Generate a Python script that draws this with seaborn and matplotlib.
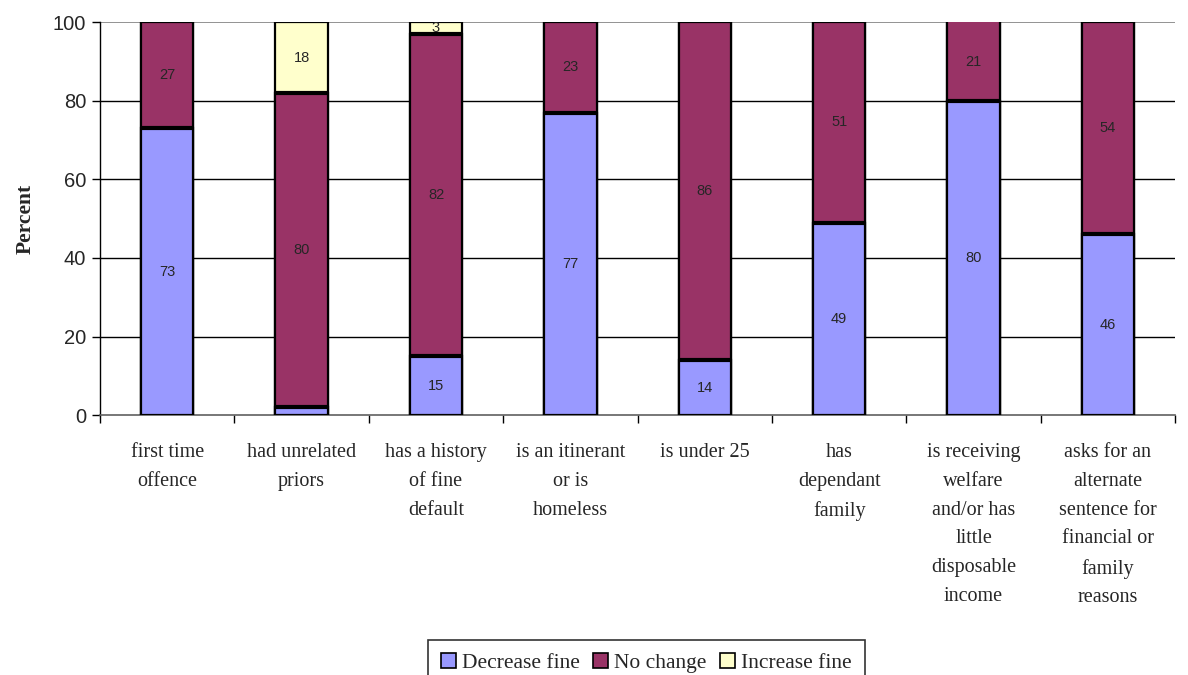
import numpy as np
import matplotlib
matplotlib.use("Agg")
import matplotlib.pyplot as plt
import seaborn as sns
from matplotlib.patches import Patch

# data
categories = [
    "first time\noffence",
    "had unrelated\npriors",
    "has a history\nof fine\ndefault",
    "is an itinerant\nor is\nhomeless",
    "is under 25",
    "has\ndependant\nfamily",
    "is receiving\nwelfare\nand/or has\nlittle\ndisposable\nincome",
    "asks for an\nalternate\nsentence for\nfinancial or\nfamily\nreasons",
]
decrease = [73, 2, 15, 77, 14, 49, 80, 46]
no_change = [27, 80, 82, 23, 86, 51, 21, 54]
increase = [0, 18, 3, 0, 0, 0, 0, 0]

# which values carry a printed label
show_dec = [True, False, True, True, True, True, True, True]

series_names = ["Decrease fine", "No change", "Increase fine"]
colors = ["#9999FF", "#993366", "#FFFFCC"]

sns.set_style("white")
plt.rcParams["font.family"] = ["Liberation Serif", "DejaVu Serif"]

fig = plt.figure(figsize=(11.88, 6.75), dpi=100)
ax = fig.add_axes([0.0842, 0.385, 0.905, 0.582])

dec = np.array(decrease)
nc = np.array(no_change)
inc = np.array(increase)
x = list(range(len(categories)))
bar_w = 0.39

# stacked: draw tallest cumulative first
layers = [dec + nc + inc, dec + nc, dec]
layer_colors = [colors[2], colors[1], colors[0]]
for vals, col in zip(layers, layer_colors):
    sns.barplot(x=x, y=vals, color=col, saturation=1, width=bar_w,
                edgecolor="black", linewidth=1.6, ax=ax, zorder=3)

# thick separators between stacked segments
for i in x:
    for top in [dec[i], dec[i] + nc[i]]:
        if 0 < top < 100:
            ax.hlines(top, i - bar_w / 2, i + bar_w / 2, color="black", lw=3, zorder=4)

# segment labels
lab_kw = dict(ha="center", va="center", fontsize=10.5, family="Liberation Sans", zorder=5)
for i in x:
    if show_dec[i] and dec[i] > 0:
        ax.text(i, dec[i] / 2, str(dec[i]), **lab_kw)
    if nc[i] > 0:
        ax.text(i, dec[i] + min(nc[i], 100 - dec[i]) / 2, str(nc[i]), **lab_kw)
    if inc[i] > 0:
        ax.text(i, dec[i] + nc[i] + inc[i] / 2, str(inc[i]), **lab_kw)

ax.set_ylim(0, 100)
ax.set_xlim(-0.5, len(categories) - 0.5)

# gridlines
for yv in [20, 40, 60, 80]:
    ax.axhline(yv, color="black", lw=1.0, zorder=1)
ax.axhline(100, color="#808080", lw=1.2, zorder=1)

ax.set_yticks([0, 20, 40, 60, 80, 100])
ax.set_yticklabels(["0", "20", "40", "60", "80", "100"], family="Liberation Sans", fontsize=14.5)
ax.tick_params(axis="y", direction="out", length=6, width=1, color="black", left=True, pad=4)

ax.set_xticks(x)
ax.set_xticklabels(categories, fontsize=14.5, linespacing=1.7, va="top")
ax.tick_params(axis="x", which="major", length=0, pad=20)
ax.set_xticks(np.arange(-0.5, len(categories), 1), minor=True)
ax.tick_params(axis="x", which="minor", direction="out", length=6, width=1, color="black", bottom=True)

for s in ["top", "right"]:
    ax.spines[s].set_visible(False)
ax.spines["left"].set_color("black")
ax.spines["bottom"].set_color("#606060")
ax.spines["left"].set_linewidth(1)
ax.spines["bottom"].set_linewidth(1.2)

ax.set_ylabel("Percent", fontsize=15.5, fontweight="bold", labelpad=12)
ax.set_xlabel("")

handles = [Patch(facecolor=c, edgecolor="black", lw=1.2) for c in colors]
leg = fig.legend(handles, series_names, loc="upper center", bbox_to_anchor=(0.544, 1 - 640 / 675),
                 ncol=3, frameon=True, fontsize=15.5, handlelength=0.7, handleheight=0.7,
                 handletextpad=0.3, columnspacing=0.6, borderpad=0.6, borderaxespad=0,
                 fancybox=False)
leg.get_frame().set_edgecolor("black")
leg.get_frame().set_linewidth(1.2)

fig.savefig("out.png", dpi=100)
